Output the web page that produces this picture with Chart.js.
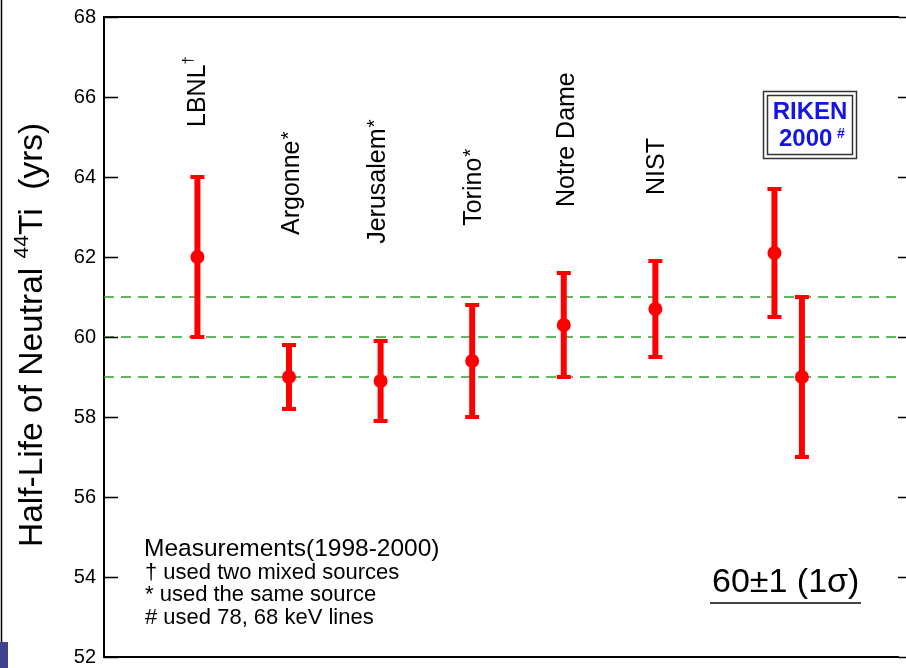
<!DOCTYPE html>
<html>
<head>
<meta charset="utf-8">
<title>Half-Life of 44Ti</title>
<script src="https://cdn.jsdelivr.net/npm/chart.js@4.4.1/dist/chart.umd.min.js"></script>
<style>
    html, body { margin: 0; padding: 0; background: #fff; }
    #wrap { width: 906px; height: 668px; }
</style>
</head>
<body>
<div id="wrap"><canvas id="halfLifeChart" width="906" height="668"></canvas></div>
<script>
// measurements (1998-2000)
const labs = ['LBNL', 'Argonne', 'Jerusalem', 'Torino', 'Notre Dame', 'NIST', 'RIKEN 2000', 'RIKEN 2000'];
const labMarks = ['\u2020', '*', '*', '*', '', '', '', ''];
const xPos = [1, 2, 3, 4, 5, 6, 7.3, 7.6];
const halfLife = [62.0, 59.0, 58.9, 59.4, 60.3, 60.7, 62.1, 59.0];
const errLow = [60.0, 58.2, 57.9, 58.0, 59.0, 59.5, 60.5, 57.0];
const errHigh = [64.0, 59.8, 59.9, 60.8, 61.6, 61.9, 63.7, 61.0];
const bandLines = [61, 60, 59];
const yTicks = [52, 54, 56, 58, 60, 62, 64, 66, 68];

const FONT = "'Liberation Sans', Arial, Helvetica, sans-serif";
const xMin = -0.02, xMax = 8.66;

// where the rotated lab names start (in years on the y axis)
const nameStart = [65.25, 62.55, 62.33, 62.78, 63.25, 63.55];
const nameShift = [8, 10, 4, 9, 10, 9];

const errorBars = {
    id: 'errorBars',
    afterDatasetsDraw(chart) {
        const ctx = chart.ctx;
        const x = chart.scales.x, y = chart.scales.y;
        ctx.save();
        ctx.strokeStyle = '#ff0000';
        for (let i = 0; i < xPos.length; i++) {
            const px = x.getPixelForValue(xPos[i]);
            const lo = y.getPixelForValue(errLow[i]);
            const hi = y.getPixelForValue(errHigh[i]);
            ctx.lineWidth = 6;
            ctx.beginPath();
            ctx.moveTo(px, lo);
            ctx.lineTo(px, hi);
            ctx.stroke();
            ctx.lineWidth = 4;
            ctx.beginPath();
            ctx.moveTo(px - 7, lo); ctx.lineTo(px + 7, lo);
            ctx.moveTo(px - 7, hi); ctx.lineTo(px + 7, hi);
            ctx.stroke();
        }
        ctx.restore();
    }
};

const frameAndText = {
    id: 'frameAndText',
    afterDraw(chart) {
        const ctx = chart.ctx;
        const a = chart.chartArea;
        const x = chart.scales.x, y = chart.scales.y;
        ctx.save();

        // frame and ticks
        ctx.strokeStyle = '#000';
        ctx.lineWidth = 2;
        ctx.beginPath();
        ctx.moveTo(a.left, a.top); ctx.lineTo(a.right, a.top);
        ctx.moveTo(a.left, a.bottom); ctx.lineTo(a.right, a.bottom);
        ctx.stroke();
        ctx.lineWidth = 1.5;
        ctx.beginPath();
        yTicks.forEach(v => {
            const py = Math.round(y.getPixelForValue(v)) + 0.5;
            ctx.moveTo(a.left, py); ctx.lineTo(a.left + 14, py);
            ctx.moveTo(a.right - 1, py); ctx.lineTo(a.right + 10, py);
        });
        ctx.stroke();

        // slide edge
        ctx.lineWidth = 1.5;
        ctx.beginPath();
        ctx.moveTo(1.5, 0); ctx.lineTo(1.5, 642);
        ctx.stroke();
        ctx.fillStyle = '#3f438f';
        ctx.fillRect(0, 642, 8, 26);

        // y title
        ctx.fillStyle = '#000';
        ctx.textBaseline = 'alphabetic';
        ctx.textAlign = 'left';
        ctx.translate(42, 547);
        ctx.rotate(-Math.PI / 2);
        ctx.font = '33.5px ' + FONT;
        let t = 'Half-Life of Neutral ';
        ctx.fillText(t, 0, 0);
        let w = ctx.measureText(t).width;
        ctx.font = '21px ' + FONT;
        ctx.fillText('44', w, -14);
        w += ctx.measureText('44').width;
        ctx.font = '33.5px ' + FONT;
        ctx.fillText('Ti  (yrs)', w, 0);
        ctx.setTransform(1, 0, 0, 1, 0, 0);

        // lab names
        for (let i = 0; i < nameStart.length; i++) {
            const px = x.getPixelForValue(xPos[i]) + nameShift[i];
            const py = y.getPixelForValue(nameStart[i]);
            ctx.translate(px, py);
            ctx.rotate(-Math.PI / 2);
            ctx.font = '25px ' + FONT;
            ctx.fillText(labs[i], 0, 0);
            const lw = ctx.measureText(labs[i]).width;
            if (labMarks[i] === '*') {
                ctx.font = '21px ' + FONT;
                ctx.fillText('*', lw + 1, -4);
            } else if (labMarks[i]) {
                ctx.font = '15px ' + FONT;
                ctx.fillText(labMarks[i], lw, -12);
            }
            ctx.setTransform(1, 0, 0, 1, 0, 0);
        }

        // RIKEN box
        ctx.strokeStyle = '#333';
        ctx.lineWidth = 1.5;
        ctx.strokeRect(763.5, 91.5, 93, 67);
        ctx.strokeRect(767.5, 95.5, 85, 59);
        ctx.fillStyle = '#1414e6';
        ctx.font = 'bold 24px ' + FONT;
        ctx.textAlign = 'center';
        ctx.fillText('RIKEN', 810, 119);
        ctx.textAlign = 'left';
        ctx.fillText('2000', 779, 146);
        ctx.font = 'bold 14px ' + FONT;
        ctx.fillText('#', 837, 138);

        // notes
        ctx.fillStyle = '#000';
        ctx.textBaseline = 'middle';
        ctx.font = '24.5px ' + FONT;
        ctx.fillText('Measurements(1998-2000)', 144, 549);
        ctx.font = '22px ' + FONT;
        ctx.fillText('\u2020 used two mixed sources', 145, 573);
        ctx.fillText('* used the same source', 145, 595);
        ctx.fillText('# used 78, 68 keV lines', 145, 618);

        ctx.textBaseline = 'alphabetic';
        ctx.font = '34px ' + FONT;
        ctx.fillText('60\u00b11 (1\u03c3)', 712, 592);
        ctx.strokeStyle = '#444';
        ctx.lineWidth = 2;
        ctx.beginPath();
        ctx.moveTo(710, 603); ctx.lineTo(861, 603);
        ctx.stroke();

        ctx.restore();
    }
};

const bandSets = bandLines.map(v => ({
    type: 'line',
    data: [{ x: xMin, y: v }, { x: xMax, y: v }],
    borderColor: '#2ea02e',
    borderWidth: 1.5,
    borderDash: [10, 7],
    pointRadius: 0,
    fill: false
}));

const ctx = document.getElementById('halfLifeChart').getContext('2d');
const halfLifeChart = new Chart(ctx, {
    type: 'scatter',
    data: {
        datasets: [{
            label: 'Half-life',
            data: xPos.map((v, i) => ({ x: v, y: halfLife[i] })),
            backgroundColor: '#ff0000',
            borderWidth: 0,
            pointRadius: 7,
            pointHoverRadius: 7
        }].concat(bandSets)
    },
    options: {
        responsive: false,
        animation: false,
        layout: {
            padding: { left: 0, right: 0, top: 17, bottom: 11 }
        },
        scales: {
            x: {
                type: 'linear',
                min: xMin,
                max: xMax,
                display: false
            },
            y: {
                min: 52,
                max: 68,
                afterFit(scale) {
                    scale.width = 104;
                    scale.paddingTop = 0;
                    scale.paddingBottom = 0;
                },
                afterBuildTicks(scale) { scale.ticks = yTicks.map(v => ({ value: v })); },
                grid: { display: false, drawTicks: false },
                border: { display: true, color: '#000', width: 2 },
                ticks: {
                    padding: 8,
                    color: '#000',
                    font: { family: FONT, size: 20 }
                }
            }
        },
        plugins: {
            legend: { display: false },
            tooltip: { enabled: false }
        }
    },
    plugins: [errorBars, frameAndText]
});
</script>
</body>
</html>
